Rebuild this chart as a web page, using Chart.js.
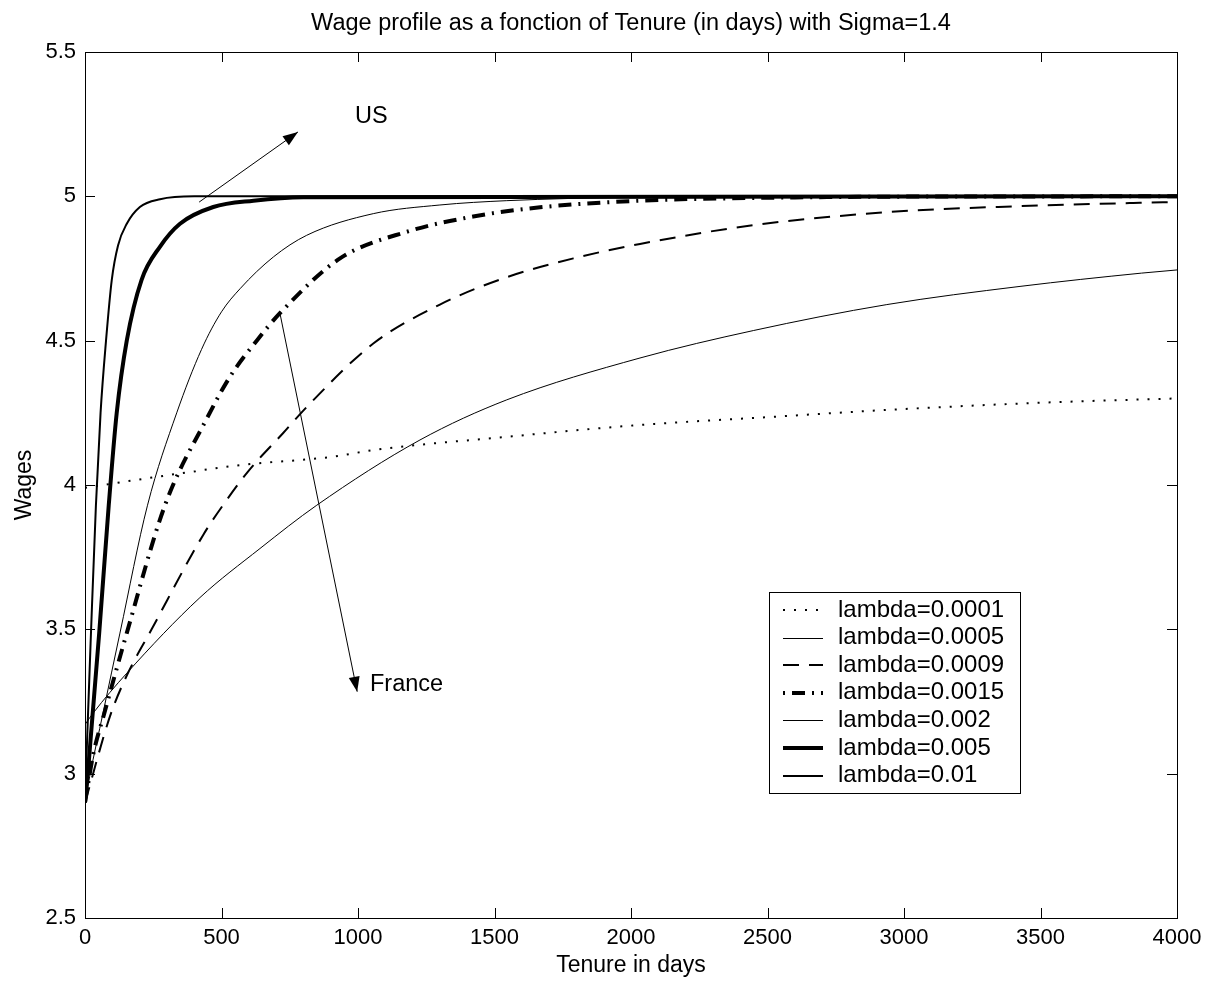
<!DOCTYPE html>
<html>
<head>
<meta charset="utf-8">
<title>Wage profile</title>
<script src="https://cdn.jsdelivr.net/npm/chart.js@4.4.1/dist/chart.umd.min.js"></script>
<style>
  html, body { margin: 0; padding: 0; background: #fff; overflow: hidden; }
  #wrap { width: 1211px; height: 985px; }
</style>
</head>
<body>
<div id="wrap"><canvas id="wageChart" width="1211" height="985"></canvas></div>
<script>
// axes
const xTickValues = [0, 500, 1000, 1500, 2000, 2500, 3000, 3500, 4000];
const xTickLabels = ['0', '500', '1000', '1500', '2000', '2500', '3000', '3500', '4000'];
const yTickValues = [2.5, 3, 3.5, 4, 4.5, 5, 5.5];
const yTickLabels = ['2.5', '3', '3.5', '4', '4.5', '5', '5.5'];

const seriesNames = ['lambda=0.0001', 'lambda=0.0005', 'lambda=0.0009', 'lambda=0.0015',
                     'lambda=0.002', 'lambda=0.005', 'lambda=0.01'];

// tenure (days) and wage
const tenureL0001 = [0, 100, 348, 568, 909, 1056, 1545, 2033, 2500, 2937, 3500, 4000];
const wageL0001   = [3.99, 4.005, 4.04, 4.069, 4.098, 4.121, 4.167, 4.208, 4.235, 4.26, 4.285, 4.30];

const tenureL0005 = [0, 30, 153, 421, 641, 849, 1227, 1545, 2033, 2448, 2937, 3425, 3870, 4000];
const wageL0005   = [3.17, 3.21, 3.348, 3.61, 3.78, 3.93, 4.156, 4.295, 4.44, 4.535, 4.625, 4.688, 4.734, 4.745];

const tenureL0009 = [0, 92, 153, 244, 433, 519, 600, 726, 812, 1056, 1300, 1545, 1789, 2033, 2448, 2937, 3425, 3840, 4000];
const wageL0009   = [2.9, 3.2, 3.34, 3.5, 3.827, 3.948, 4.05, 4.18, 4.27, 4.49, 4.625, 4.72, 4.785, 4.835, 4.9, 4.945, 4.966, 4.977, 4.98];

const tenureL0015 = [0, 31, 71, 153, 293, 446, 531, 629, 714, 934, 1178, 1422, 1667, 2033, 2500, 3000, 4000];
const wageL0015   = [2.9, 3.07, 3.21, 3.487, 3.93, 4.23, 4.375, 4.5, 4.595, 4.785, 4.877, 4.93, 4.962, 4.985, 4.995, 4.999, 5.0];

const tenureL002 = [0, 17, 66, 128, 229, 336, 427, 500, 568, 690, 812, 1056, 1300, 1545, 2000, 4000];
const wageL002   = [2.9, 2.99, 3.21, 3.487, 3.93, 4.25, 4.47, 4.6, 4.68, 4.79, 4.865, 4.94, 4.97, 4.985, 4.996, 5.0];

const tenureL005 = [0, 12, 52, 87, 116, 153, 207, 275, 348, 470, 617, 800, 4000];
const wageL005   = [2.9, 3.02, 3.487, 3.93, 4.248, 4.5, 4.71, 4.826, 4.905, 4.963, 4.985, 4.997, 5.0];

const tenureL01 = [0, 4, 22, 40, 57, 77, 98, 121, 153, 201, 275, 400, 4000];
const wageL01   = [2.9, 3.02, 3.49, 3.93, 4.25, 4.5, 4.71, 4.83, 4.905, 4.963, 4.99, 5.0, 5.0];

// annotation arrows (data coords)
const usArrow = { from: [418, 4.98], to: [780, 5.223] };
const franceArrow = { from: [714, 4.595], to: [997, 3.284] };
const usLabel = { text: 'US', at: [989, 5.278] };
const franceLabel = { text: 'France', at: [1044, 3.31] };

const FONT = 'Liberation Sans, Arial, Helvetica, sans-serif';
Chart.defaults.font.family = FONT;
Chart.defaults.color = '#000';

function pts(xs, ys) {
    return xs.map((t, i) => ({ x: t, y: ys[i] }));
}

// line styles per curve (same order as seriesNames)
const styles = [
    { width: 2,   dash: [2, 9] },
    { width: 1,   dash: [] },
    { width: 2,   dash: [16, 10] },
    { width: 4,   dash: [13, 7, 2, 7] },
    { width: 1,   dash: [] },
    { width: 4,   dash: [] },
    { width: 2,   dash: [] }
];
const seriesData = [
    pts(tenureL0001, wageL0001),
    pts(tenureL0005, wageL0005),
    pts(tenureL0009, wageL0009),
    pts(tenureL0015, wageL0015),
    pts(tenureL002, wageL002),
    pts(tenureL005, wageL005),
    pts(tenureL01, wageL01)
];

const datasets = seriesNames.map((name, i) => ({
    label: name,
    data: seriesData[i],
    borderColor: '#000',
    backgroundColor: '#000',
    borderWidth: styles[i].width,
    borderDash: styles[i].dash,
    pointRadius: 0,
    fill: false,
    cubicInterpolationMode: 'monotone'
}));

function arrow(ctx, x0, y0, x1, y1, len, half) {
    ctx.beginPath();
    ctx.moveTo(x0, y0);
    ctx.lineTo(x1, y1);
    ctx.stroke();
    const a = Math.atan2(y1 - y0, x1 - x0);
    const bx = x1 - len * Math.cos(a), by = y1 - len * Math.sin(a);
    ctx.beginPath();
    ctx.moveTo(x1, y1);
    ctx.lineTo(bx + half * Math.sin(a), by - half * Math.cos(a));
    ctx.lineTo(bx - half * Math.sin(a), by + half * Math.cos(a));
    ctx.closePath();
    ctx.fill();
}

// matlab-like frame, inward ticks, title, boxed legend, arrows
const matlabLook = {
    id: 'matlabLook',
    afterDraw(chart) {
        const { ctx, chartArea: a, scales: { x, y } } = chart;
        const TICK = 10;
        ctx.save();
        ctx.strokeStyle = '#000';
        ctx.fillStyle = '#000';
        ctx.lineWidth = 1;
        ctx.setLineDash([]);

        ctx.strokeRect(a.left + 0.5, a.top + 0.5, a.right - a.left, a.bottom - a.top);
        ctx.beginPath();
        x.ticks.forEach(t => {
            const px = Math.round(x.getPixelForValue(t.value)) + 0.5;
            ctx.moveTo(px, a.bottom); ctx.lineTo(px, a.bottom - TICK);
            ctx.moveTo(px, a.top); ctx.lineTo(px, a.top + TICK);
        });
        y.ticks.forEach(t => {
            const py = Math.round(y.getPixelForValue(t.value)) + 0.5;
            ctx.moveTo(a.left, py); ctx.lineTo(a.left + TICK, py);
            ctx.moveTo(a.right, py); ctx.lineTo(a.right - TICK, py);
        });
        ctx.stroke();

        // title
        ctx.font = '23.5px ' + FONT;
        ctx.textAlign = 'center';
        ctx.textBaseline = 'middle';
        ctx.fillText('Wage profile as a fonction of Tenure (in days) with Sigma=1.4', (a.left + a.right) / 2, 24);

        // arrows + labels
        arrow(ctx, x.getPixelForValue(usArrow.from[0]), y.getPixelForValue(usArrow.from[1]),
              x.getPixelForValue(usArrow.to[0]), y.getPixelForValue(usArrow.to[1]), 15, 5.5);
        arrow(ctx, x.getPixelForValue(franceArrow.from[0]), y.getPixelForValue(franceArrow.from[1]),
              x.getPixelForValue(franceArrow.to[0]), y.getPixelForValue(franceArrow.to[1]), 15, 5.5);
        ctx.textAlign = 'left';
        [usLabel, franceLabel].forEach(l => {
            ctx.fillText(l.text, x.getPixelForValue(l.at[0]), y.getPixelForValue(l.at[1]));
        });

        // legend box
        const L = { left: 769, top: 592, width: 251, height: 201, row: 27.6, first: 610 };
        ctx.font = '24px ' + FONT;
        ctx.fillStyle = '#fff';
        ctx.fillRect(L.left, L.top, L.width, L.height);
        ctx.strokeRect(L.left + 0.5, L.top + 0.5, L.width, L.height);
        ctx.fillStyle = '#000';
        chart.data.datasets.forEach((ds, i) => {
            const ly = L.first + i * L.row;
            const off = ds.borderWidth % 2 ? 0.5 : 0;
            ctx.lineWidth = ds.borderWidth;
            ctx.setLineDash(ds.borderDash);
            ctx.lineDashOffset = ds.borderDash.length === 4 ? 20 : 0;
            ctx.beginPath();
            ctx.moveTo(783, Math.round(ly) + off);
            ctx.lineTo(823, Math.round(ly) + off);
            ctx.stroke();
            ctx.setLineDash([]);
            ctx.lineDashOffset = 0;
            ctx.fillText(ds.label, 838, ly);
        });
        ctx.restore();
    }
};

new Chart(document.getElementById('wageChart'), {
    type: 'line',
    data: { datasets },
    plugins: [matlabLook],
    options: {
        responsive: false,
        animation: false,
        devicePixelRatio: 1,
        layout: { padding: { left: 0, right: 34, top: 52, bottom: 0 } },
        plugins: { legend: { display: false }, tooltip: { enabled: false } },
        scales: {
            x: {
                type: 'linear', min: 0, max: 4000,
                afterBuildTicks: s => { s.ticks = xTickValues.map(v => ({ value: v })); },
                afterFit: s => { s.height = 67; },
                grid: { display: false, drawTicks: false },
                border: { display: false },
                ticks: { callback: (v, i) => xTickLabels[i], font: { size: 22 }, color: '#000',
                         padding: 7, maxRotation: 0, autoSkip: false },
                title: { display: true, text: 'Tenure in days', font: { size: 23 }, color: '#000',
                         padding: { top: 0, bottom: 6 } }
            },
            y: {
                type: 'linear', min: 2.5, max: 5.5,
                afterBuildTicks: s => { s.ticks = yTickValues.map(v => ({ value: v })); },
                afterFit: s => { s.width = 85; },
                grid: { display: false, drawTicks: false },
                border: { display: false },
                ticks: { callback: (v, i) => yTickLabels[i], font: { size: 22 }, color: '#000',
                         padding: 9, autoSkip: false },
                title: { display: true, text: 'Wages', font: { size: 23 }, color: '#000',
                         padding: { top: 11, bottom: 0 } }
            }
        }
    }
});
</script>
</body>
</html>
